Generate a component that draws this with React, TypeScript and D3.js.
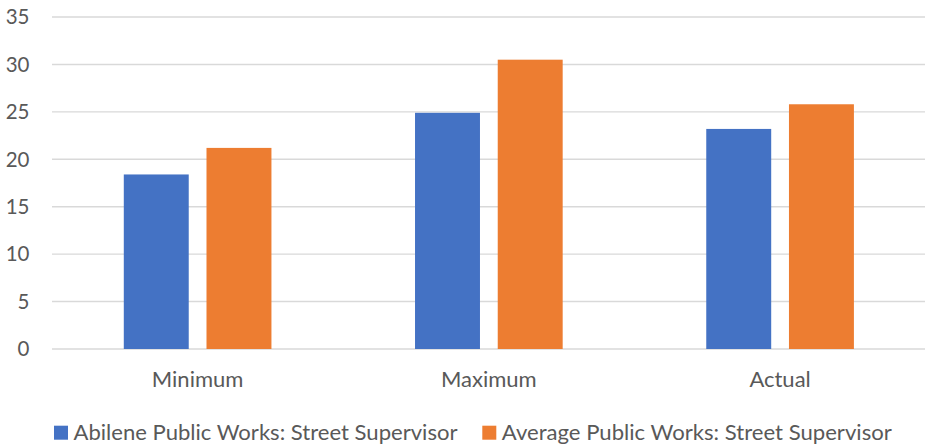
import { useEffect, useRef } from 'react';
import * as d3 from 'd3';

const categories = ['Minimum', 'Maximum', 'Actual'];
const seriesNames = ['Abilene Public Works: Street Supervisor', 'Average Public Works: Street Supervisor'];
const abilene = [18.4, 24.9, 23.2];
const average = [21.2, 30.5, 25.8];
const yTicks = [0, 5, 10, 15, 20, 25, 30, 35];
const seriesColors = ['#4472C4', '#ED7D31'];

const WIDTH = 925;
const HEIGHT = 447;
const FONT = 'Lato, "Open Sans", sans-serif';
const TEXT = '#595959';

export default function App() {
    const svgRef = useRef<SVGSVGElement | null>(null);

    useEffect(() => {
        if (!svgRef.current) return;
        const svg = d3.select(svgRef.current);
        svg.selectAll('*').remove();

        const left = 52;
        const right = 925.7;
        const top = 17;
        const bottom = 349;

        const x = d3.scaleBand<string>().domain(categories).range([left, right]).padding(0);
        const y = d3.scaleLinear().domain([0, 35]).range([bottom, top]);

        const bw = x.bandwidth();
        const barW = bw * 0.223;
        const gap = bw * 0.061;
        const groupW = barW * 2 + gap;

        // gridlines
        svg.append('g')
            .selectAll('line')
            .data(yTicks)
            .join('line')
            .attr('x1', left).attr('x2', right)
            .attr('y1', d => y(d)).attr('y2', d => y(d))
            .attr('stroke', '#D9D9D9')
            .attr('stroke-width', 1.4);

        // y tick labels
        svg.append('g')
            .selectAll('text')
            .data(yTicks)
            .join('text')
            .attr('x', 29.5)
            .attr('y', d => y(d) + 7.3)
            .attr('text-anchor', 'end')
            .style('font-family', FONT)
            .style('font-size', '20.5px')
            .style('fill', TEXT)
            .text(d => d);

        // bars, one group per series
        const series = [abilene, average];
        series.forEach((vals, si) => {
            svg.append('g')
                .selectAll('rect')
                .data(vals)
                .join('rect')
                .attr('x', (d, i) => (x(categories[i]) as number) + bw / 2 - groupW / 2 + si * (barW + gap))
                .attr('y', d => y(d))
                .attr('width', barW)
                .attr('height', d => y(0) - y(d))
                .attr('fill', seriesColors[si]);
        });

        // category labels
        svg.append('g')
            .selectAll('text')
            .data(categories)
            .join('text')
            .attr('x', d => (x(d) as number) + bw / 2)
            .attr('y', 387)
            .attr('text-anchor', 'middle')
            .style('font-family', FONT)
            .style('font-size', '22px')
            .style('fill', TEXT)
            .text(d => d);

        // legend
        const legendX = [54, 482.3];
        const legendW = [384, 390];
        const lg = svg.append('g');
        seriesNames.forEach((name, i) => {
            lg.append('rect')
                .attr('x', legendX[i]).attr('y', 425.7)
                .attr('width', 14).attr('height', 14)
                .attr('fill', seriesColors[i]);
            lg.append('text')
                .attr('x', legendX[i] + 19.5)
                .attr('y', 439.7)
                .attr('textLength', legendW[i])
                .attr('lengthAdjust', 'spacingAndGlyphs')
                .style('font-family', FONT)
                .style('font-size', '21px')
                .style('fill', TEXT)
                .text(name);
        });
    }, []);

    return (
        <svg ref={svgRef} width={WIDTH} height={HEIGHT}
            style={{ position: 'absolute', left: 0, top: 0, background: '#fff' }} />
    );
}
